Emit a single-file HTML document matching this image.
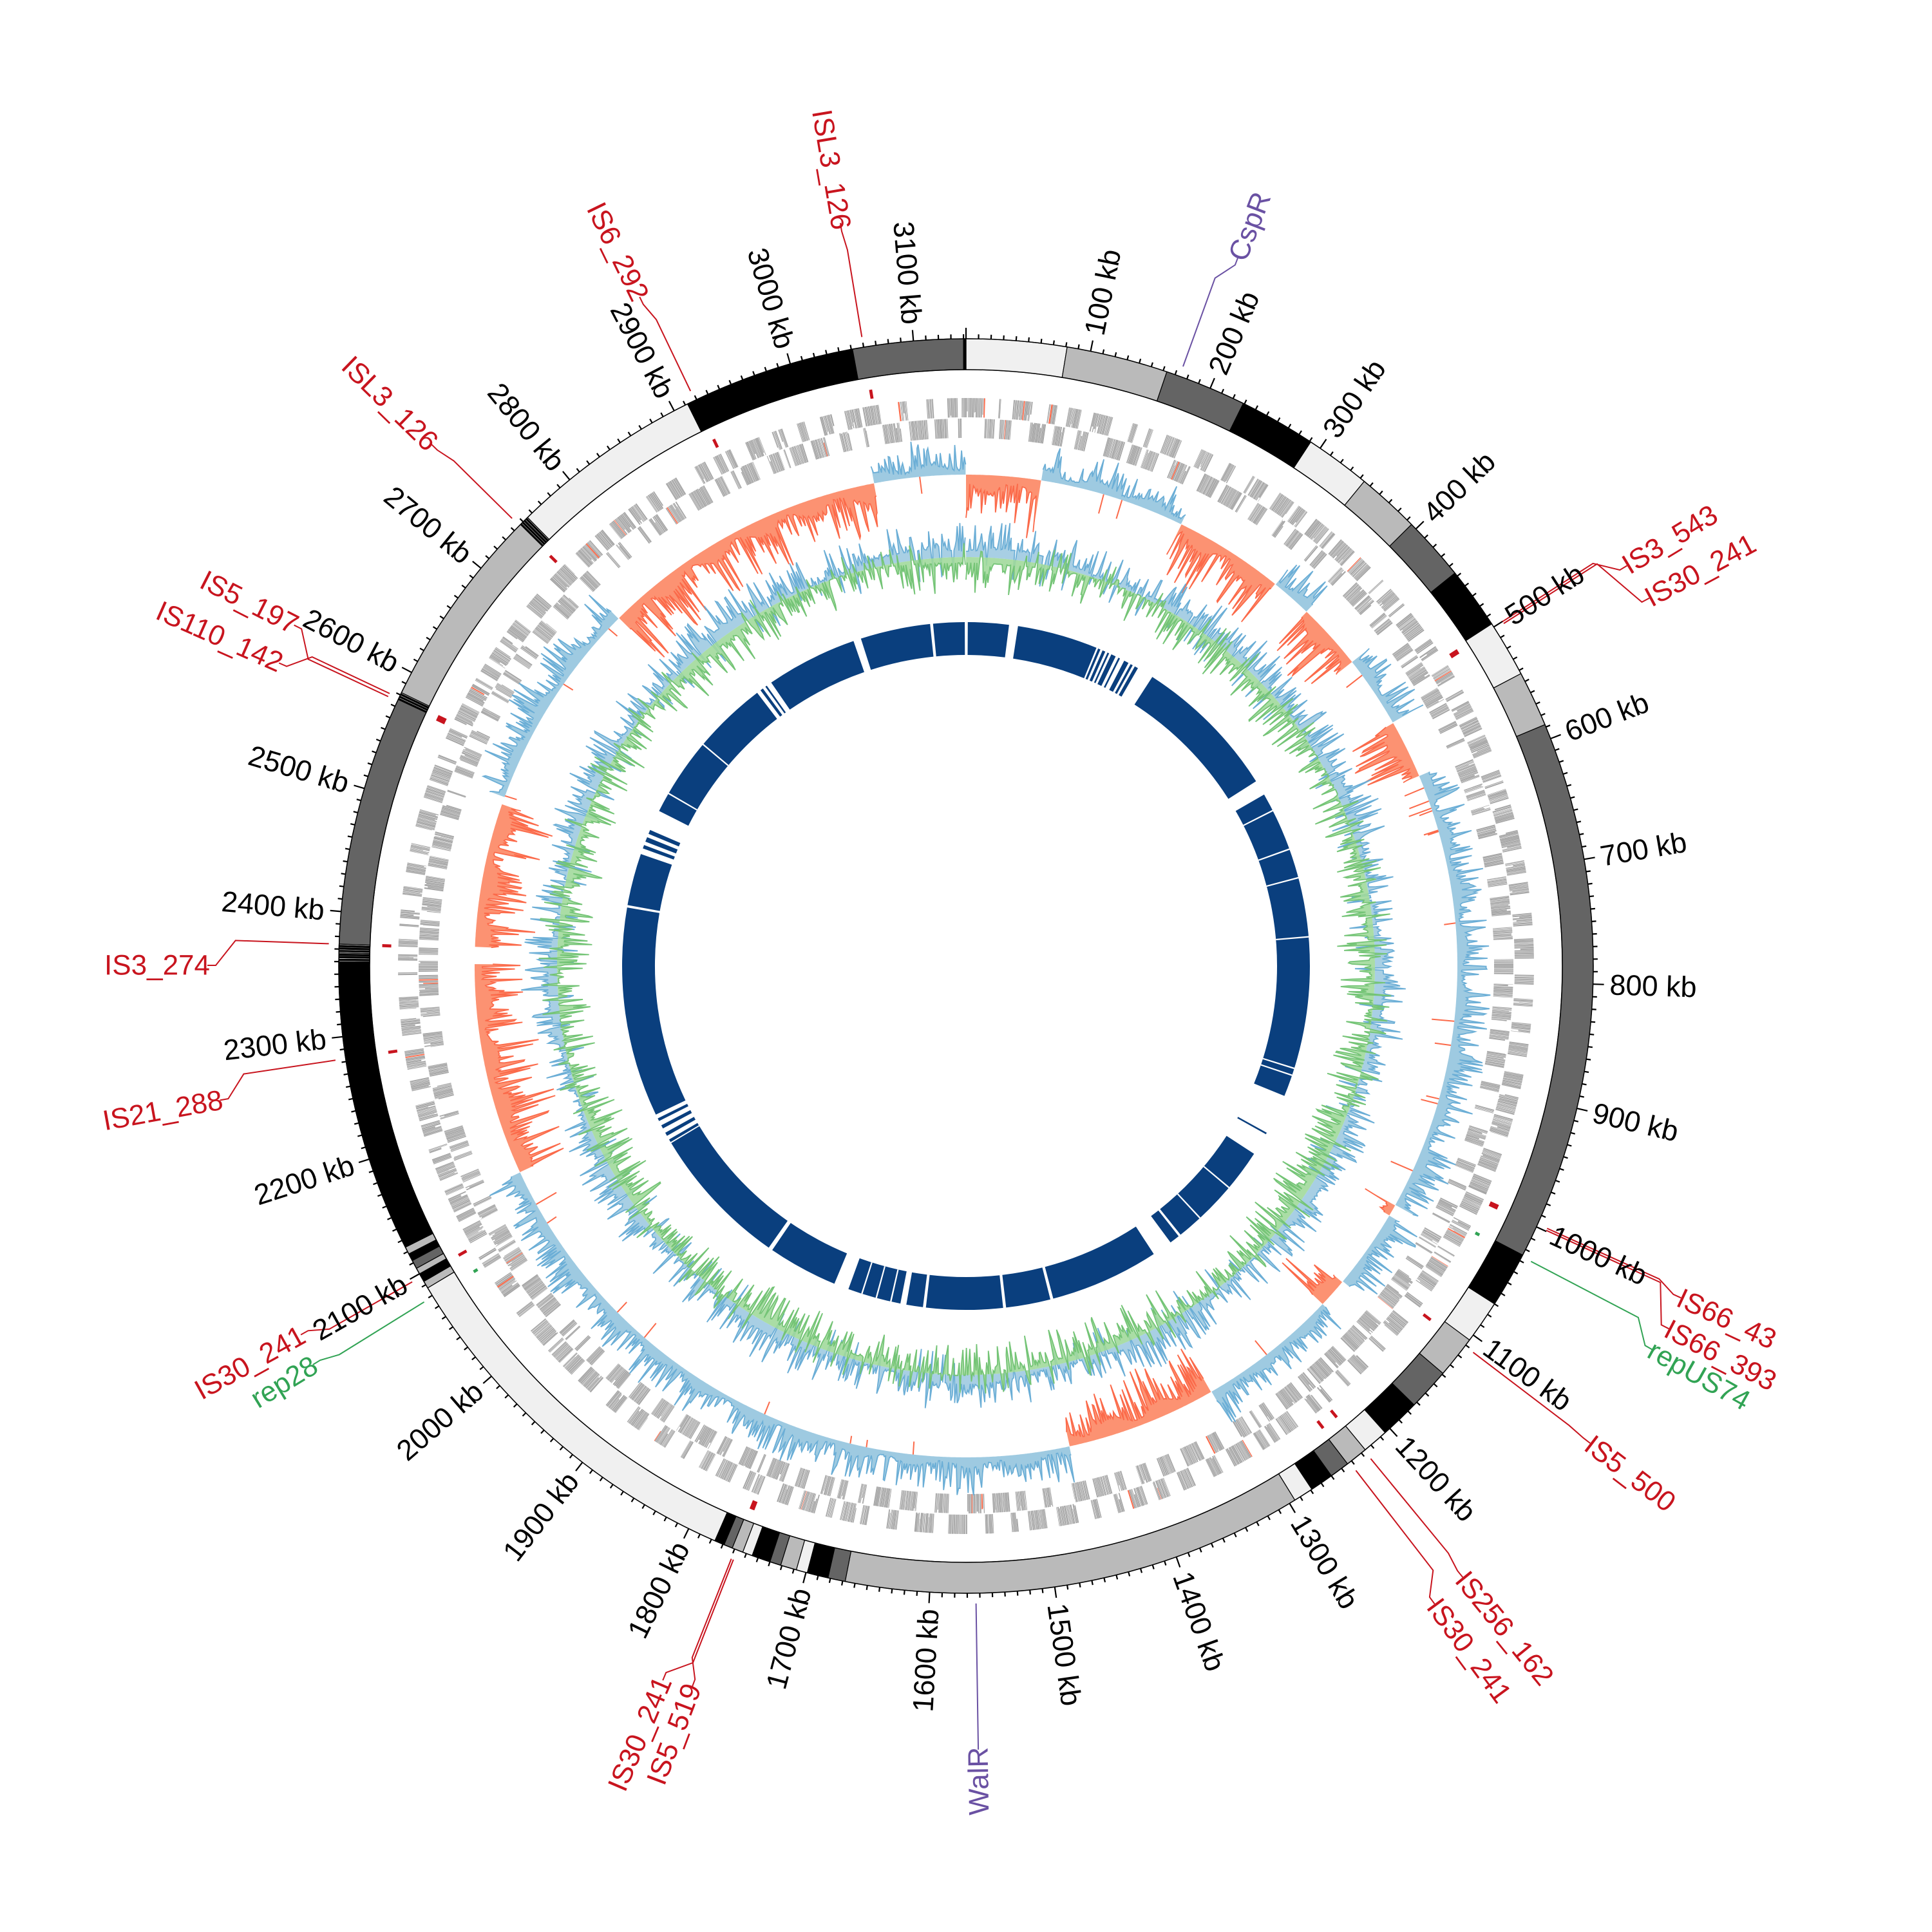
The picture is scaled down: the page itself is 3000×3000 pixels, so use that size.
<!DOCTYPE html>
<html><head><meta charset="utf-8"><style>
html,body{margin:0;padding:0;background:#fff}
svg{display:block}
.k{font-family:"Liberation Sans",sans-serif;font-size:45px;fill:#000;dominant-baseline:central}
.lb{font-family:"Liberation Sans",sans-serif;font-size:44px;dominant-baseline:central}
.l{text-anchor:end}
.red{fill:#c8141e}.pur{fill:#6a51a3}.grn{fill:#31a354}
</style></head><body>
<svg id="s" width="3000" height="3000" viewBox="0 0 3000 3000" xmlns="http://www.w3.org/2000/svg">
<g id="g"></g>
<g id="txt">
<text class="k" transform="rotate(11.46 1500 1500) translate(1500 500) rotate(-90)">100 kb</text>
<text class="k" transform="rotate(22.92 1500 1500) translate(1500 500) rotate(-90)">200 kb</text>
<text class="k" transform="rotate(34.37 1500 1500) translate(1500 500) rotate(-90)">300 kb</text>
<text class="k" transform="rotate(45.83 1500 1500) translate(1500 500) rotate(-90)">400 kb</text>
<text class="k" transform="rotate(57.29 1500 1500) translate(1500 500) rotate(-90)">500 kb</text>
<text class="k" transform="rotate(68.75 1500 1500) translate(1500 500) rotate(-90)">600 kb</text>
<text class="k" transform="rotate(80.20 1500 1500) translate(1500 500) rotate(-90)">700 kb</text>
<text class="k" transform="rotate(91.66 1500 1500) translate(1500 500) rotate(-90)">800 kb</text>
<text class="k" transform="rotate(103.12 1500 1500) translate(1500 500) rotate(-90)">900 kb</text>
<text class="k" transform="rotate(114.58 1500 1500) translate(1500 500) rotate(-90)">1000 kb</text>
<text class="k" transform="rotate(126.03 1500 1500) translate(1500 500) rotate(-90)">1100 kb</text>
<text class="k" transform="rotate(137.49 1500 1500) translate(1500 500) rotate(-90)">1200 kb</text>
<text class="k" transform="rotate(148.95 1500 1500) translate(1500 500) rotate(-90)">1300 kb</text>
<text class="k" transform="rotate(160.41 1500 1500) translate(1500 500) rotate(-90)">1400 kb</text>
<text class="k" transform="rotate(171.86 1500 1500) translate(1500 500) rotate(-90)">1500 kb</text>
<text class="k l" transform="rotate(183.32 1500 1500) translate(1500 500) rotate(90)">1600 kb</text>
<text class="k l" transform="rotate(194.78 1500 1500) translate(1500 500) rotate(90)">1700 kb</text>
<text class="k l" transform="rotate(206.24 1500 1500) translate(1500 500) rotate(90)">1800 kb</text>
<text class="k l" transform="rotate(217.69 1500 1500) translate(1500 500) rotate(90)">1900 kb</text>
<text class="k l" transform="rotate(229.15 1500 1500) translate(1500 500) rotate(90)">2000 kb</text>
<text class="k l" transform="rotate(240.61 1500 1500) translate(1500 500) rotate(90)">2100 kb</text>
<text class="k l" transform="rotate(252.07 1500 1500) translate(1500 500) rotate(90)">2200 kb</text>
<text class="k l" transform="rotate(263.52 1500 1500) translate(1500 500) rotate(90)">2300 kb</text>
<text class="k l" transform="rotate(274.98 1500 1500) translate(1500 500) rotate(90)">2400 kb</text>
<text class="k l" transform="rotate(286.44 1500 1500) translate(1500 500) rotate(90)">2500 kb</text>
<text class="k l" transform="rotate(297.90 1500 1500) translate(1500 500) rotate(90)">2600 kb</text>
<text class="k l" transform="rotate(309.36 1500 1500) translate(1500 500) rotate(90)">2700 kb</text>
<text class="k l" transform="rotate(320.81 1500 1500) translate(1500 500) rotate(90)">2800 kb</text>
<text class="k l" transform="rotate(332.27 1500 1500) translate(1500 500) rotate(90)">2900 kb</text>
<text class="k l" transform="rotate(343.73 1500 1500) translate(1500 500) rotate(90)">3000 kb</text>
<text class="k l" transform="rotate(355.19 1500 1500) translate(1500 500) rotate(90)">3100 kb</text>

<text class="lb l red" transform="rotate(350.4 1500 1500) translate(1500 340) rotate(90)">ISL3_126</text>
<text class="lb l red" transform="rotate(334 1500 1500) translate(1500 348) rotate(90)">IS6_292</text>
<text class="lb l red" transform="rotate(314.3 1500 1500) translate(1500 344) rotate(90)">ISL3_126</text>
<text class="lb l red" transform="rotate(296.9 1500 1500) translate(1500 334) rotate(90)">IS5_197</text>
<text class="lb l red" transform="rotate(293.8 1500 1500) translate(1500 338) rotate(90)">IS110_142</text>
<text class="lb l red" transform="rotate(270.05 1500 1500) translate(1500 326) rotate(90)">IS3_274</text>
<text class="lb l red" transform="rotate(259.8 1500 1500) translate(1500 327) rotate(90)">IS21_288</text>
<text class="lb l red" transform="rotate(241 1500 1500) translate(1500 323) rotate(90)">IS30_241</text>
<text class="lb l grn" transform="rotate(238.6 1500 1500) translate(1500 316) rotate(90)">rep28</text>
<text class="lb l red" transform="rotate(203 1500 1500) translate(1500 299) rotate(90)">IS30_241</text>
<text class="lb l red" transform="rotate(200.8 1500 1500) translate(1500 306) rotate(90)">IS5_519</text>
<text class="lb l pur" transform="rotate(179.1 1500 1500) translate(1500 287) rotate(90)">WalR</text>
<text class="lb red" transform="rotate(143.7 1500 1500) translate(1500 275) rotate(-90)">IS30_241</text>
<text class="lb red" transform="rotate(140.9 1500 1500) translate(1500 281) rotate(-90)">IS256_162</text>
<text class="lb red" transform="rotate(127.4 1500 1500) translate(1500 284) rotate(-90)">IS5_500</text>
<text class="lb grn" transform="rotate(119.2 1500 1500) translate(1500 283) rotate(-90)">repUS74</text>
<text class="lb red" transform="rotate(117.3 1500 1500) translate(1500 276) rotate(-90)">IS66_393</text>
<text class="lb red" transform="rotate(114.9 1500 1500) translate(1500 280) rotate(-90)">IS66_43</text>
<text class="lb red" transform="rotate(61.7 1500 1500) translate(1500 299) rotate(-90)">IS30_241</text>
<text class="lb red" transform="rotate(58.8 1500 1500) translate(1500 304) rotate(-90)">IS3_543</text>
<text class="lb pur" transform="rotate(21 1500 1500) translate(1500 325) rotate(-90)">CspR</text>
</g>
</svg>
<script>
(function(){
var NS="http://www.w3.org/2000/svg",g=document.getElementById("g");
var D=360/3142;
function P(r,t){var a=t*Math.PI/180;return [(1500+r*Math.sin(a)).toFixed(1),(1500-r*Math.cos(a)).toFixed(1)];}
function sec(t1,t2,r1,r2){var l=(t2-t1)>180?1:0,a=P(r2,t1),b=P(r2,t2),c=P(r1,t2),d=P(r1,t1);
return "M"+a+"A"+r2+","+r2+" 0 "+l+" 1 "+b+"L"+c+"A"+r1+","+r1+" 0 "+l+" 0 "+d+"Z";}
function el(n,at){var e=document.createElementNS(NS,n);for(var k in at)e.setAttribute(k,at[k]);g.appendChild(e);return e;}
var s=12345;function R(){s|=0;s=s+0x6D2B79F5|0;var t=Math.imul(s^s>>>15,1|s);t=t+Math.imul(t^t>>>7,61|t)^t;return((t^t>>>14)>>>0)/4294967296;}
var VL="#f0f0f0",LG="#bababa",DG="#646464",BK="#000000";
var bands=[[0,81,VL],[81,163,LG],[163,229,DG],[229,291,BK],[291,344,VL],[344,395,LG],[395,447,DG],[447,497,BK],[497,543,VL],[543,588,LG],[588,1025,DG],[1025,1070,BK],[1070,1105,VL],[1105,1139,LG],[1139,1173,DG],[1173,1205,BK],[1205,1226,VL],[1226,1244,LG],[1244,1260,DG],[1260,1279,BK],[1279,1295,VL],[1295,1668,LG],[1668,1682,DG],[1682,1699,BK],[1699,1708,VL],[1708,1721,LG],[1721,1730,DG],[1730,1745,BK],[1745,1753,VL],[1753,1762,LG],[1762,1769,DG],[1769,1777,BK],[1777,2087,VL],[2087,2093,LG],[2093,2100,BK],[2100,2105,LG],[2105,2112,DG],[2112,2118,BK],[2118,2124,LG],[2124,2359,BK]];
var st=[BK,LG,BK,VL,BK,DG,BK,LG,VL,BK,LG,BK,DG,BK,VL];
for(var i=0;i<15;i++)bands.push([2359+i,2360+i,st[i]]);
bands.push([2374,2576,DG]);
for(i=0;i<6;i++)bands.push([2576+i,2577+i,i%2?LG:BK]);
bands.push([2582,2747,LG]);
for(i=0;i<8;i++)bands.push([2747+i,2748+i,i%2?LG:BK]);
bands.push([2755,2912,VL],[2912,3051,BK],[3051,3140,DG],[3140,3142,BK]);
bands.forEach(function(b){el("path",{d:sec(b[0]*D,b[1]*D,926,974),fill:b[2],stroke:"#000","stroke-width":1.2});});
el("circle",{cx:1500,cy:1500,r:974,fill:"none",stroke:"#000","stroke-width":1.5});
el("circle",{cx:1500,cy:1500,r:926,fill:"none",stroke:"#000","stroke-width":1.5});
var td="";for(var k=0;k<3142;k+=10){var L=(k%100==0)?17:7,a=P(974,k*D),b=P(974+L,k*D);td+="M"+a+"L"+b;}
el("path",{d:td,stroke:"#000","stroke-width":2.2,fill:"none"});
// gene track
var gd="",rd="",kb=0,strand=0;
while(kb<3142){var run=2+Math.floor(R()*16);strand=1-strand;
 for(var j=0;j<run&&kb<3142;j++){var len=0.3+R()*1.0;var r1=strand?852:820,r2=strand?882:850;
  if(R()<0.12){ if(strand) r1=852+R()*12; else r2=850-R()*10;}
  var p=sec(kb*D,(kb+len)*D,r1,r2);if(R()<0.01)rd+=p;else gd+=p;kb+=len+0.1+R()*0.25;}
 if(R()<0.1)kb+=R()*3;}
el("path",{d:gd,fill:"#a6a6a6"});el("path",{d:rd,fill:"#fb6a4a"});
var feats=[350.6,334.4,314.6,295.0,295.3,272,261.5,240.3,201.4,201.6,142.3,140.6,127.3,114.3,114.5,57.3,57.5];
var md="";feats.forEach(function(t){md+=sec(t-0.15,t+0.15,893,907);});
el("path",{d:md,fill:"#c8141e"});
el("path",{d:sec(238,238.3,893,900)+sec(117.5,117.8,893,900),fill:"#31a354"});
function curve(k0,k1,bw,f,rb,fill,line){var pts=[],bl=[],t;
 for(var k=k0;k<=k1+0.001;k+=bw){t=Math.min(k,k1)*D;pts.push(P(rb+f(k),t));bl.push(P(rb,t));}
 bl.reverse();
 el("path",{d:"M"+pts.join("L")+"L"+bl.join("L")+"Z",fill:fill,stroke:"none"});
 el("path",{d:"M"+pts.join("L"),fill:"none",stroke:line,"stroke-width":1.8});}
var base=763;
var regs=[[0,77,-1],[77,227,1],[227,341,-1],[341,383,1],[383,452,-1],[452,527,1],[527,587,-1],[587,1040,1],[1040,1052,-1],[1052,1135,1],[1135,1165,-1],[1165,1310,1],[1310,1465,-1],[1465,2140,1],[2140,2359,-1],[2376,2525,-1],[2532,2750,1],[2750,3048,-1],[3048,3142,1]];
regs.forEach(function(r){
 var neg=r[2]<0;var amp=neg?-95:62;var ph=R()*6;
 curve(r[0],r[1],1.3,function(k){return amp*(0.18+0.08*Math.sin(k/9+ph)+0.75*Math.pow(R(),3.5));},base,neg?"#fc9272":"#9ecae1",neg?"#fb6a4a":"#6baed6");
 if(!neg){var sd="";for(var k=r[0];k<r[1];k+=1.3){if(R()<0.015){var v=-(10+R()*30);sd+="M"+P(base,k*D)+"L"+P(base+v,(k+0.6)*D);}}
  if(sd)el("path",{d:sd,stroke:"#fb6a4a","stroke-width":2,fill:"none"});}
});
var gb=635;
curve(0,3142,1.5,function(k){var v=8+6*Math.sin(k/40)+45*Math.pow(R(),3.5);if(R()<0.1)v=-12-R()*25;return v;},gb,"rgba(158,202,225,0.9)","#6baed6");
curve(0,3142,1.5,function(k){var v=-(4+5*Math.sin(k/55+1)+50*Math.pow(R(),3.6));if(R()<0.1)v=8+R()*22;return v;},gb,"rgba(161,217,155,0.9)","#74c476");
var B="#0a3f7e",bd="";
var blocks=[[0.3,7.2],[8.7,22.3],[32.8,57.5],[60.1,112.2],[123.1,141.4],[141.8,143.5],[146.9,165.3],[165.8,173.3],[173.8,186.7],[187.2,190],[191,200],[202.5,214.3],[215,239],[244.4,279.8],[280.2,289],[296.8,322.6],[325.5,340.9],[342.2,354],[354.5,359.8]];
blocks.forEach(function(b){bd+=sec(b[0],b[1],483,534);});
[[22.6,23],[23.4,23.9],[24.3,24.6],[25,25.8],[26.3,26.6],[27.4,28.2],[28.6,29],[29.4,30],[119,119.3],[239.2,239.7],[240.4,241],[241.8,242.4],[243.2,243.7],[290,290.6],[291.2,292],[292.6,293.3],[323.3,323.8],[324.3,324.6]].forEach(function(b){bd+=sec(b[0],b[1],483,534);});
el("path",{d:bd,fill:B});
var wd="";[63,70,75,85,107.2,108.4,192.5,195,197.5,130,137,300,310].forEach(function(t){wd+=sec(t,t+0.25,483,534);});
el("path",{d:wd,fill:"#fff"});
var labs=[[350.6,350.4,1172],[334.4,334,1158],[314.6,314.3,1162],[295.0,296.9,1172],[295.3,293.8,1168],[272,270.05,1180],[261.5,259.8,1179],[240.3,241,1183],[238.2,238.6,1190,"#31a354"],[201.4,203,1207],[201.6,200.8,1200],[179.1,179.1,1219,"#6a51a3"],[142.3,143.7,1231],[140.6,140.9,1225],[127.3,127.4,1222],[117.6,119.2,1223,"#31a354"],[114.5,117.3,1230],[114.3,114.9,1226],[57.5,61.7,1207],[57.3,58.8,1202],[19.9,21,1181,"#6a51a3"]];
labs.forEach(function(l){var pts=[P(990,l[0]),P(l[2]-45,l[0]),P(l[2]-15,l[1]),P(l[2]-2,l[1])];
 el("polyline",{points:pts.join(" "),fill:"none",stroke:l[3]||"#c8141e","stroke-width":2});});
})();
</script>
</body></html>
